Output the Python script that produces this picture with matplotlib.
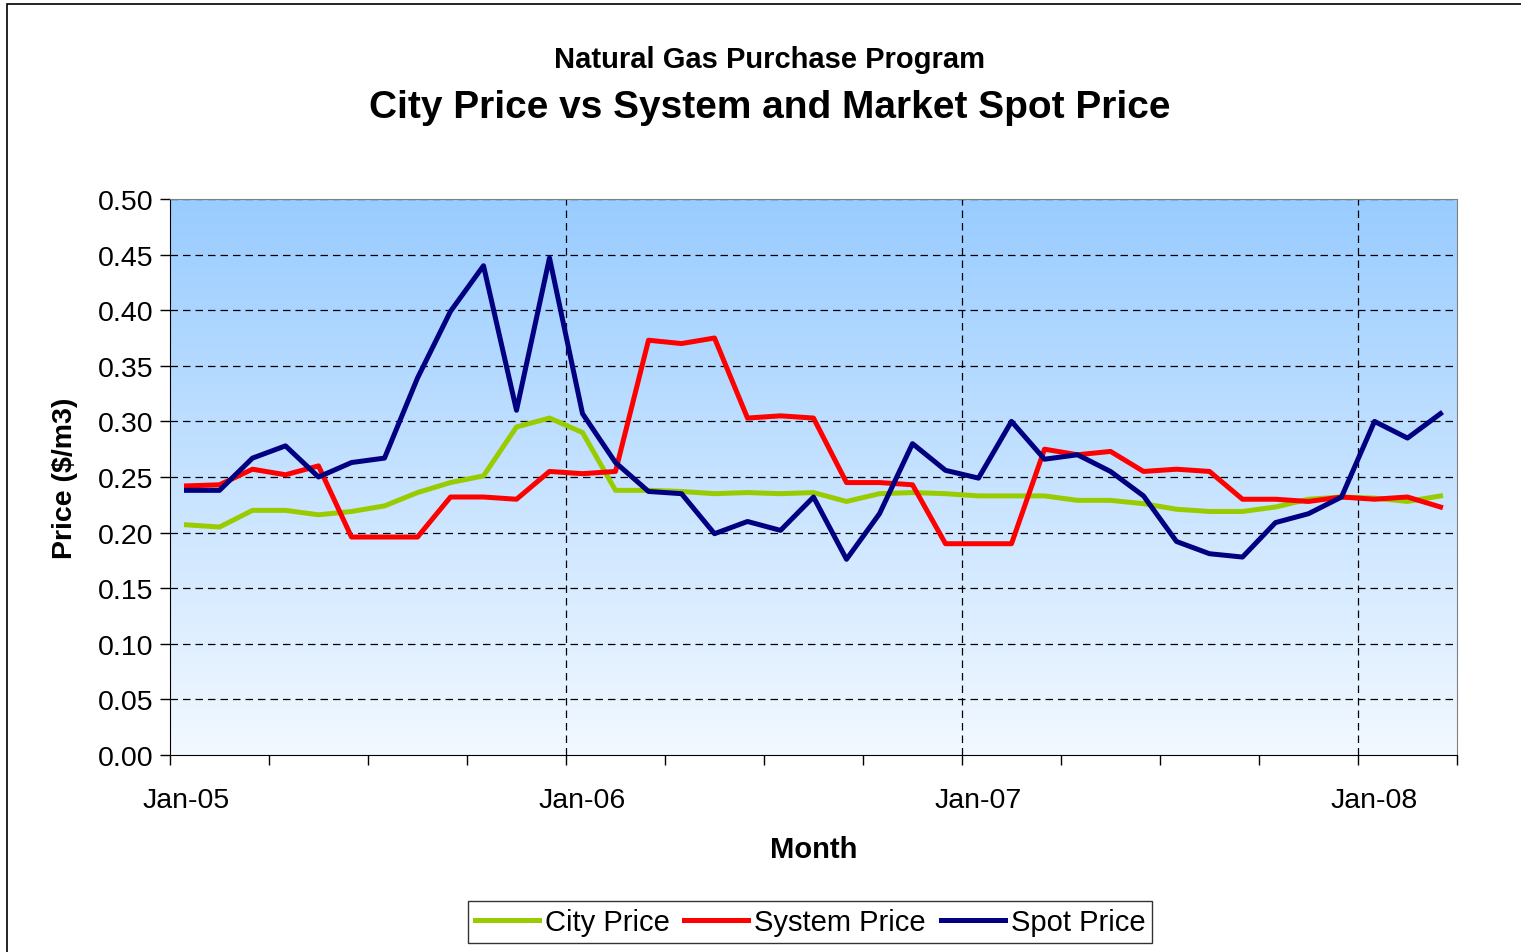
#!/usr/bin/env python3
# City price vs system and market spot price, monthly Jan-05 .. Mar-08
import numpy as np
import matplotlib
matplotlib.use("Agg")
import matplotlib.pyplot as plt
from matplotlib.patches import Rectangle

plt.rcParams['font.family'] = ['Liberation Sans', 'DejaVu Sans']

months = ["Jan-05", "Feb-05", "Mar-05", "Apr-05", "May-05", "Jun-05", "Jul-05", "Aug-05",
          "Sep-05", "Oct-05", "Nov-05", "Dec-05", "Jan-06", "Feb-06", "Mar-06", "Apr-06",
          "May-06", "Jun-06", "Jul-06", "Aug-06", "Sep-06", "Oct-06", "Nov-06", "Dec-06",
          "Jan-07", "Feb-07", "Mar-07", "Apr-07", "May-07", "Jun-07", "Jul-07", "Aug-07",
          "Sep-07", "Oct-07", "Nov-07", "Dec-07", "Jan-08", "Feb-08", "Mar-08"]

city_price = [0.207, 0.205, 0.220, 0.220, 0.216, 0.219, 0.224, 0.236, 0.245, 0.251,
              0.295, 0.303, 0.290, 0.238, 0.238, 0.237, 0.235, 0.236, 0.235, 0.236,
              0.228, 0.235, 0.236, 0.235, 0.233, 0.233, 0.233, 0.229, 0.229, 0.226,
              0.221, 0.219, 0.219, 0.223, 0.230, 0.232, 0.231, 0.228, 0.233]

system_price = [0.242, 0.243, 0.257, 0.252, 0.260, 0.196, 0.196, 0.196, 0.232, 0.232,
                0.230, 0.255, 0.253, 0.255, 0.373, 0.370, 0.375, 0.303, 0.305, 0.303,
                0.245, 0.245, 0.243, 0.190, 0.190, 0.190, 0.275, 0.270, 0.273, 0.255,
                0.257, 0.255, 0.230, 0.230, 0.228, 0.232, 0.230, 0.232, 0.223]

spot_price = [0.238, 0.238, 0.267, 0.278, 0.250, 0.263, 0.267, 0.339, 0.399, 0.440,
              0.310, 0.447, 0.307, 0.263, 0.237, 0.235, 0.199, 0.210, 0.202, 0.232,
              0.176, 0.217, 0.280, 0.256, 0.249, 0.300, 0.266, 0.270, 0.255, 0.233,
              0.192, 0.181, 0.178, 0.209, 0.217, 0.232, 0.300, 0.285, 0.307]

x = np.arange(len(months))

fig = plt.figure(figsize=(15.21, 9.53), dpi=100)
ax = fig.add_axes([170 / 1521, 1 - 756 / 953, 1287 / 1521, 556 / 953])

# plot area gradient: light blue at top fading to near white
grad = np.linspace(0, 1, 256).reshape(-1, 1)
top = np.array([0.60, 0.80, 1.00])
bot = np.array([0.95, 0.975, 1.00])
img = top[None, None, :] * (1 - grad[:, :, None]) + bot[None, None, :] * grad[:, :, None]
ax.imshow(img, extent=(-0.5, len(months) - 0.5, 0.0, 0.5), aspect='auto',
          origin='upper', zorder=0, interpolation='bilinear')

ax.set_xlim(-0.5, len(months) - 0.5)
ax.set_ylim(0, 0.5)

ax.plot(x, city_price, color='#99CC00', lw=3.6, label='City Price', zorder=3)
ax.plot(x, system_price, color='#FF0000', lw=3.6, label='System Price', zorder=4)
ax.plot(x, spot_price, color='#000080', lw=3.6, label='Spot Price', zorder=5)

# grid
yt = np.arange(0, 0.51, 0.05)
for yv in yt[1:]:
    ax.axhline(yv, color='black', lw=0.9, ls=(0, (6, 4)), zorder=1)
for xv in [11.5, 23.5, 35.5]:
    ax.axvline(xv, color='black', lw=0.9, ls=(0, (6, 4)), zorder=1)

ax.set_yticks(yt)
ax.set_yticklabels(["%.2f" % v for v in yt], fontsize=20.5)
ax.tick_params(axis='y', length=7, direction='out', width=1, pad=5)

ax.set_xticks(np.arange(-0.5, len(months), 3), minor=True)
ax.tick_params(axis='x', which='minor', length=7, direction='out', width=1)
ax.set_xticks([0, 12, 24, 36])
ax.set_xticklabels([months[i] for i in [0, 12, 24, 36]], fontsize=20.5)
ax.tick_params(axis='x', which='major', length=0, pad=23)

for s in ['top', 'right']:
    ax.spines[s].set_color('#808080')
ax.spines['left'].set_color('black')
ax.spines['bottom'].set_color('black')

ax.set_ylabel("Price ($/m3)", fontsize=20.5, fontweight='bold', labelpad=14)
ax.set_xlabel("Month", fontsize=21, fontweight='bold', labelpad=16)

fig.text(0.506, 1 - 60 / 953, "Natural Gas Purchase Program", ha='center', va='center',
         fontsize=21, fontweight='bold')
fig.text(0.506, 1 - 108 / 953, "City Price vs System and Market Spot Price", ha='center',
         va='center', fontsize=28, fontweight='bold')

leg = fig.legend(loc='center', bbox_to_anchor=(810 / 1521, 1 - 923 / 953), ncol=3,
                 fontsize=21, frameon=True, fancybox=False, edgecolor='black',
                 handlelength=2.2, handletextpad=0.2, columnspacing=0.5, borderpad=0.25)
leg.get_frame().set_linewidth(1)

# outer chart border (clipped at right and bottom in the reference)
fig.patches.append(Rectangle((7 / 1521, -0.1), 1.2, 1 - 5 / 953 + 0.1,
                             transform=fig.transFigure, fill=False, ec='black', lw=1.2))

fig.savefig("out.png", dpi=100)
